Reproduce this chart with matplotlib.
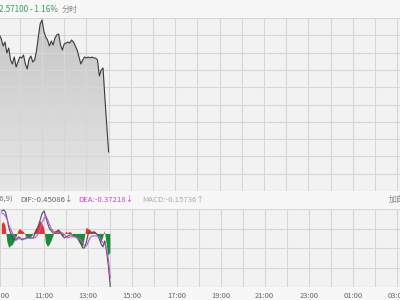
import numpy as np
import matplotlib
matplotlib.use("Agg")
import matplotlib.pyplot as plt
from matplotlib.colors import LinearSegmentedColormap

plt.rcParams['font.family'] = ['Noto Sans CJK SC', 'DejaVu Sans']

# 5-minute bars starting 09:05 (hours as floats, continue past 24 for next day)
START_HOUR = 9 + 5 / 60
STEP_HOUR = 5 / 60

price = [2.6295, 2.6275, 2.6240, 2.6260, 2.6205, 2.6230, 2.6170, 2.6150, 2.6185, 2.6135,
         2.6160, 2.6185, 2.6180, 2.6195, 2.6150, 2.6125, 2.6175, 2.6190, 2.6160, 2.6170,
         2.6215, 2.6285, 2.6350, 2.6370, 2.6315, 2.6285, 2.6270, 2.6240, 2.6265, 2.6245,
         2.6280, 2.6295, 2.6300, 2.6245, 2.6220, 2.6250, 2.6255, 2.6260, 2.6255, 2.6270,
         2.6260, 2.6240, 2.6220, 2.6185, 2.6150, 2.6170, 2.6185, 2.6180, 2.6185, 2.6180,
         2.6185, 2.6180, 2.6180, 2.6170, 2.6090, 2.6120, 2.6130, 2.5980, 2.5845, 2.5710]

dif = [0.195, 0.204, 0.187, 0.119, 0.042, 0.000, -0.042, -0.051, -0.051, -0.025,
       -0.034, -0.051, -0.042, -0.034, -0.025, -0.034, -0.034, -0.034, 0.000, 0.034,
       0.076, 0.127, 0.178, 0.195, 0.136, 0.085, 0.042, 0.025, 0.008, 0.008,
       0.025, 0.034, 0.008, -0.017, -0.034, -0.025, -0.017, -0.008, -0.008, -0.017,
       -0.025, -0.034, -0.059, -0.085, -0.119, -0.119, -0.068, 0.008, 0.017, 0.008,
       0.008, 0.008, -0.008, -0.042, -0.085, -0.110, -0.059, -0.153, -0.280, -0.451]

dea = [0.178, 0.170, 0.153, 0.119, 0.068, 0.034, 0.000, -0.025, -0.042, -0.042,
       -0.042, -0.042, -0.042, -0.042, -0.034, -0.034, -0.034, -0.034, -0.034, -0.017,
       0.008, 0.051, 0.102, 0.136, 0.153, 0.119, 0.076, 0.042, 0.025, 0.008,
       0.008, 0.017, 0.017, 0.008, -0.008, -0.025, -0.034, -0.025, -0.025, -0.025,
       -0.025, -0.034, -0.042, -0.051, -0.076, -0.102, -0.102, -0.068, -0.034, -0.017,
       -0.017, -0.017, -0.017, -0.025, -0.051, -0.076, -0.085, -0.127, -0.221, -0.372]

macd = [0.085, 0.102, 0.068, -0.068, -0.119, -0.102, -0.093, -0.059, -0.025, 0.025,
        0.042, 0.025, 0.017, -0.017, -0.034, -0.042, -0.025, -0.008, 0.025, 0.051,
        0.076, 0.110, 0.085, 0.051, -0.076, -0.110, -0.093, -0.059, -0.017, 0.025,
        0.025, 0.034, 0.008, -0.025, -0.008, 0.017, 0.008, 0.017, 0.008, -0.017,
        -0.017, -0.034, -0.059, -0.093, -0.119, -0.042, 0.051, 0.042, 0.034, 0.017,
        0.025, 0.017, -0.008, -0.042, -0.076, -0.034, 0.025, -0.085, -0.187, -0.157]

tick_hours = [9, 11, 13, 15, 17, 19, 21, 23, 25, 27]
tick_labels = ['09:00', '11:00', '13:00', '15:00', '17:00', '19:00', '21:00', '23:00', '01:00', '03:00']

header_price = '2.57100 - 1.16%'
header_mode = '分时'
macd_title = 'MACD(12,26,9)'
dif_text = 'DIF:-0.45086↓'
dea_text = 'DEA:-0.37218↓'
macd_text = 'MACD:-0.15736↑'

t = START_HOUR + np.arange(len(price)) * STEP_HOUR
XMIN, XMAX = 9.107, 27.13
P_LO, P_HI = 2.5515, 2.638
M_LO, M_HI = -0.451, 0.212

BG = '#f2f2f2'
GRID = '#d6d6d6'

fig = plt.figure(figsize=(4, 3), dpi=100, facecolor='#f7f7f7')
ax1 = fig.add_axes([0, 1 - 191 / 300, 1, 173 / 300], facecolor=BG)
ax2 = fig.add_axes([0, 13 / 300, 1, 78 / 300], facecolor=BG)


def draw_grid(ax, ylo, yhi, nrows):
    for h in range(9, 28):
        ax.axvline(h, color=GRID, lw=0.8, zorder=1.5)
    for y in np.linspace(ylo, yhi, nrows + 1):
        ax.axhline(y, color=GRID, lw=0.8, zorder=1.5)


# price panel
draw_grid(ax1, P_LO, P_HI, 10)
poly = ax1.fill_between(t, price, P_LO, color='none')
grad = np.linspace(0, 1, 256).reshape(-1, 1)
cmap = LinearSegmentedColormap.from_list('g', ['#e6e6e6', '#c6c6c6'])
im = ax1.imshow(grad, extent=[t[0], t[-1], P_LO, max(price)], origin='lower',
                aspect='auto', cmap=cmap, zorder=1)
im.set_clip_path(poly.get_paths()[0], transform=ax1.transData)
ax1.plot(t, price, color='#3a3a3a', lw=0.8, zorder=3)
ax1.set_xlim(XMIN, XMAX)
ax1.set_ylim(P_LO, P_HI)
ax1.set_xticks([])
ax1.set_yticks([])

# macd panel
draw_grid(ax2, M_LO, M_HI, 4)
macd = np.array(macd)
ax2.fill_between(t, macd, 0, where=macd >= 0, interpolate=True, color='#e8302c', lw=0, zorder=2)
ax2.fill_between(t, macd, 0, where=macd <= 0, interpolate=True, color='#1b8a3c', lw=0, zorder=2)
ax2.plot(t, dif, color='#505050', lw=0.8, zorder=3)
ax2.plot(t, dea, color='#b45ad2', lw=0.8, zorder=3)
ax2.set_xlim(XMIN, XMAX)
ax2.set_ylim(M_LO, M_HI)
ax2.set_yticks([])
ax2.set_xticks(tick_hours)
ax2.set_xticklabels(tick_labels, fontsize=5.5, color='#666666')
ax2.tick_params(axis='x', length=0, pad=3.5)

for ax in (ax1, ax2):
    for s in ax.spines.values():
        s.set_visible(False)


# header texts (pixel coords -> figure fraction)
def fx(px):
    return px / 400


def fy(py):
    return 1 - py / 300


fig.text(fx(-1), fy(9), header_price, color='#3c9a5f', fontsize=5.8, va='center')
fig.text(fx(62), fy(9), header_mode, color='#888888', fontsize=5.8, va='center')
fig.text(fx(13), fy(200), macd_title, color='#777777', fontsize=5.6, va='center', ha='right')
fig.text(fx(20), fy(200), dif_text, color='#666666', fontsize=5.6, va='center')
fig.text(fx(78), fy(200), dea_text, color='#cc44cc', fontsize=5.6, va='center')
fig.text(fx(142), fy(200), macd_text, color='#aaaaaa', fontsize=5.6, va='center')
fig.text(fx(389), fy(200), '加自选', color='#888888', fontsize=5.6, va='center')

fig.savefig('out.png', dpi=100, facecolor=fig.get_facecolor())
